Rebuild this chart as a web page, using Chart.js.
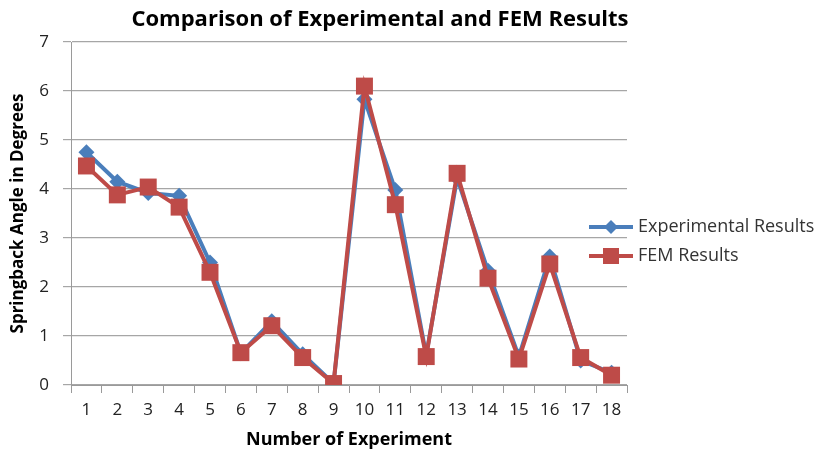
<!DOCTYPE html>
<html>
<head>
<meta charset="utf-8">
<script src="https://cdn.jsdelivr.net/npm/chart.js@4.4.1/dist/chart.umd.min.js"></script>
<style>
  html, body { margin: 0; padding: 0; background: #fff; }
  #wrap { width: 825px; height: 454px; }
</style>
</head>
<body>
<div id="wrap"><canvas id="chart" width="825" height="454"></canvas></div>
<script>
const experiments = ["1", "2", "3", "4", "5", "6", "7", "8", "9", "10", "11", "12", "13", "14", "15", "16", "17", "18"];
const experimentalResults = [4.75, 4.15, 3.92, 3.86, 2.5, 0.65, 1.3, 0.63, 0.03, 5.83, 3.98, 0.61, 4.22, 2.33, 0.58, 2.62, 0.5, 0.25];
const femResults = [4.47, 3.88, 4.04, 3.63, 2.3, 0.66, 1.21, 0.56, 0.03, 6.1, 3.68, 0.58, 4.32, 2.18, 0.53, 2.47, 0.56, 0.2];
const yTicks = [0, 1, 2, 3, 4, 5, 6, 7];

const FONT = "'Open Sans', 'Liberation Sans', sans-serif";
const BLUE = "#4a7ebb";
const RED = "#be4b48";

// title and legend drawn by hand to sit where the original puts them
const decorations = {
  id: "decorations",
  afterDraw(chart) {
    const ctx = chart.ctx;
    ctx.save();
    ctx.fillStyle = "#000";
    ctx.font = "bold 22px " + FONT;
    ctx.textAlign = "center";
    ctx.textBaseline = "middle";
    ctx.fillText("Comparison of Experimental and FEM Results", 380, 20);

    const rows = [
      { label: "Experimental Results", color: BLUE, style: "diamond", y: 227 },
      { label: "FEM Results", color: RED, style: "square", y: 256 },
    ];
    ctx.font = "18px " + FONT;
    ctx.textAlign = "left";
    rows.forEach((r) => {
      ctx.strokeStyle = r.color;
      ctx.fillStyle = r.color;
      ctx.lineWidth = 4;
      ctx.beginPath();
      ctx.moveTo(589, r.y);
      ctx.lineTo(633, r.y);
      ctx.stroke();
      ctx.beginPath();
      if (r.style === "diamond") {
        ctx.moveTo(611, r.y - 7);
        ctx.lineTo(618, r.y);
        ctx.lineTo(611, r.y + 7);
        ctx.lineTo(604, r.y);
        ctx.closePath();
      } else {
        ctx.rect(603, r.y - 8, 16, 16);
      }
      ctx.fill();
      ctx.fillStyle = "#333";
      ctx.fillText(r.label, 638, r.y);
    });
    ctx.restore();
  },
};

new Chart(document.getElementById("chart"), {
  type: "line",
  data: {
    labels: experiments,
    datasets: [
      {
        label: "Experimental Results",
        data: experimentalResults,
        borderColor: BLUE,
        backgroundColor: BLUE,
        borderWidth: 4,
        pointStyle: "rectRot",
        pointRadius: 8,
        pointHoverRadius: 8,
        pointBorderWidth: 0,
        tension: 0,
        order: 2,
      },
      {
        label: "FEM Results",
        data: femResults,
        borderColor: RED,
        backgroundColor: RED,
        borderWidth: 4,
        pointStyle: "rect",
        pointRadius: 12,
        pointHoverRadius: 12,
        pointBorderWidth: 0,
        tension: 0,
        order: 1,
      },
    ],
  },
  options: {
    responsive: false,
    animation: false,
    layout: { padding: { top: 42, right: 198, left: 0, bottom: 0 } },
    plugins: {
      legend: { display: false },
      title: { display: false },
      tooltip: { enabled: false },
    },
    scales: {
      x: {
        offset: true,
        grid: {
          offset: true,
          drawOnChartArea: false,
          drawTicks: true,
          tickLength: 8,
          color: "#9a9a9a",
        },
        border: { color: "#9a9a9a", width: 1 },
        ticks: { color: "#222", font: { family: FONT, size: 17 }, padding: 7, maxRotation: 0, autoSkip: false },
        title: {
          display: true,
          text: "Number of Experiment",
          color: "#000",
          font: { family: FONT, size: 18, weight: "bold" },
          padding: { top: 0, bottom: 3 },
        },
        afterFit(scale) { scale.height = 69; },
      },
      y: {
        min: 0,
        max: 7,
        afterBuildTicks(scale) { scale.ticks = yTicks.map((v) => ({ value: v })); },
        grid: { color: "#a6a6a6", tickLength: 8, lineWidth: 1.2 },
        border: { color: "#9a9a9a", width: 1 },
        ticks: { color: "#222", font: { family: FONT, size: 17 }, padding: 14 },
        title: {
          display: true,
          text: "Springback Angle in Degrees",
          color: "#000",
          font: { family: FONT, size: 17, weight: "bold" },
          padding: { top: 8, bottom: 0 },
        },
        afterFit(scale) { scale.width = 71; },
      },
    },
  },
  plugins: [decorations],
});
</script>
</body>
</html>
